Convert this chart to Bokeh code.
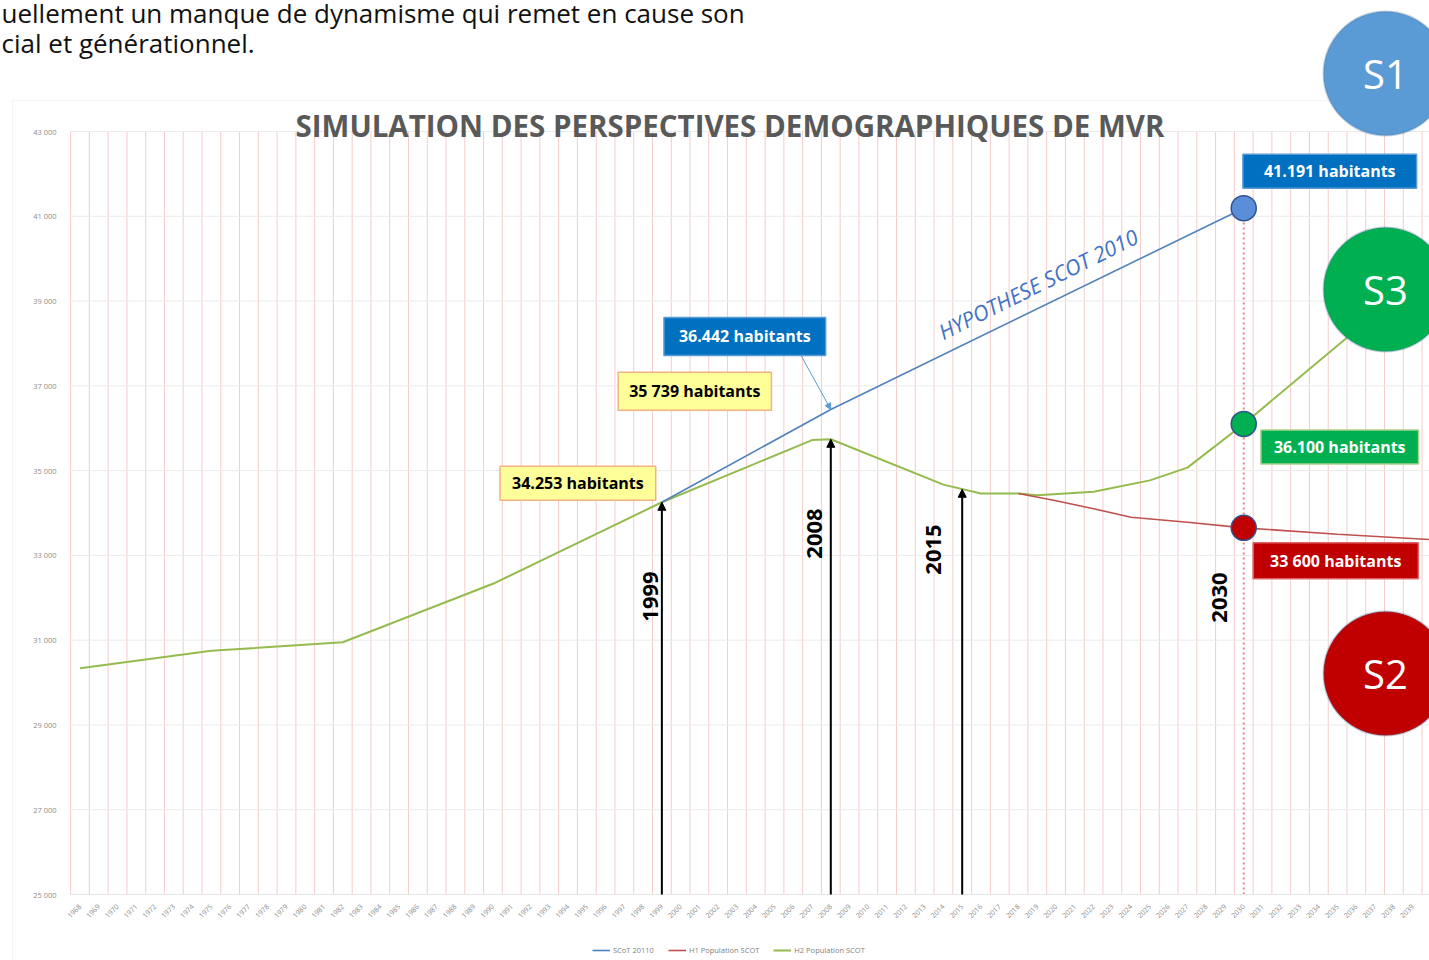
import math
from bokeh.plotting import figure
from bokeh.models import (Range1d, FixedTicker, Label, Arrow, NormalHead,
                          BoxAnnotation, Legend, LegendItem)
from bokeh.embed import file_html
from bokeh.resources import INLINE

# ---------------- data ----------------
years = list(range(1968, 2041))
y_ticks = [25000, 27000, 29000, 31000, 33000, 35000, 37000, 39000, 41000, 43000]
y_tick_labels = ["25 000", "27 000", "29 000", "31 000", "33 000", "35 000",
                 "37 000", "39 000", "41 000", "43 000"]

scot_years = [1999, 2008, 2030]
scot_vals = [34253, 36442, 41191]

h1_years = [2018, 2020, 2022, 2024, 2027, 2030, 2035, 2040]
h1_vals = [34460, 34290, 34100, 33900, 33780, 33650, 33500, 33370]

h2_years = [1968, 1975, 1982, 1990, 1999, 2007, 2008, 2014, 2016, 2018, 2019,
            2022, 2025, 2027, 2030, 2035, 2040]
h2_vals = [30340, 30750, 30950, 32330, 34253, 35720, 35739, 34670, 34460, 34460,
           34420, 34500, 34770, 35070, 36100, 37950, 39800]

milestone_years = [1999, 2008, 2015]
milestone_vals = [34253, 35739, 34560]

dot_year = 2030
dot_vals = [41191, 36100, 33650]

series_names = ["SCoT 20110", "H1 Population SCOT", "H2 Population SCOT"]

title_text = "SIMULATION DES PERSPECTIVES DEMOGRAPHIQUES DE MVR"
doc_line1 = "uellement un manque de dynamisme qui remet en cause son"
doc_line2 = "cial et générationnel."

# ---------------- layout ----------------
W, H = 1429, 960
YEAR_PX = 18.77
XS = years[0] - 79.5 / YEAR_PX          # data x at canvas left edge
XE = XS + W / YEAR_PX
Y0, Y1 = y_ticks[0], y_ticks[-1]
VAL_PX = (894 - 131) / (Y1 - Y0)
YE = Y1 + 131 / VAL_PX                   # data y at canvas top edge
YS = YE - H / VAL_PX
GX0 = years[0] - 0.5                     # left edge of plot area

def px_x(px):   # canvas pixel -> data x
    return XS + px / YEAR_PX

def px_y(py):   # canvas pixel -> data y
    return YE - py / VAL_PX

FONT = "Open Sans"
BLUE = "#4F81BD"
RED = "#C0504D"
GREEN = "#94BB4E"

p = figure(width=W, height=H, output_backend="svg", toolbar_location=None,
           x_range=Range1d(XS, XE), y_range=Range1d(YS, YE),
           min_border=0, min_border_left=0, min_border_right=0,
           min_border_top=0, min_border_bottom=0, title=None)
p.outline_line_color = None
p.background_fill_color = "white"
p.border_fill_color = "white"
p.xgrid.visible = False
p.ygrid.visible = False

# axes drawn inside the frame at the plot-area edges
xa = p.xaxis[0]
xa.fixed_location = Y0
xa.bounds = (GX0, XE)
xa.ticker = FixedTicker(ticks=years)
xa.major_label_orientation = math.pi / 4
xa.major_label_text_font = FONT
xa.major_label_text_font_size = "7px"
xa.major_label_text_color = "#8c8c8c"
xa.major_tick_line_color = None
xa.minor_tick_line_color = None
xa.axis_line_color = "#E6E6E6"
xa.major_label_standoff = 5

ya = p.yaxis[0]
ya.fixed_location = GX0
ya.bounds = (Y0, Y1)
ya.ticker = FixedTicker(ticks=y_ticks)
ya.major_label_overrides = {t: l for t, l in zip(y_ticks, y_tick_labels)}
ya.major_label_text_font = FONT
ya.major_label_text_font_size = "7.5px"
ya.major_label_text_color = "#8c8c8c"
ya.major_tick_line_color = None
ya.minor_tick_line_color = None
ya.axis_line_color = None
ya.major_label_standoff = 8

# grid lines of the plot area
vx = [y - 0.5 for y in years] + [years[-1] + 0.5]
p.segment(x0=vx, y0=[Y0] * len(vx), x1=vx, y1=[Y1] * len(vx),
          line_color="#F4CCCC", line_width=1)
p.segment(x0=[GX0] * len(y_ticks), y0=y_ticks, x1=[XE] * len(y_ticks), y1=y_ticks,
          line_color="#EBEBEB", line_width=1)

# chart border
p.add_layout(BoxAnnotation(left=px_x(12), right=px_x(1600), top=px_y(100),
                           bottom=px_y(1100), fill_alpha=0,
                           line_color="#D9D9D9", line_width=1))

# lines
r_h2 = p.line(h2_years, h2_vals, line_color=GREEN, line_width=2)
r_h1 = p.line(h1_years, h1_vals, line_color=RED, line_width=1.6)
r_scot = p.line(scot_years, scot_vals, line_color=BLUE, line_width=1.6)

# dotted 2030 marker
p.segment(x0=[dot_year], y0=[Y0], x1=[dot_year], y1=[dot_vals[0]],
          line_color="#E8868A", line_width=2, line_dash="2 3")

p.scatter([dot_year] * 3, dot_vals, size=25,
          fill_color=["#5A8ED8", "#00B050", "#C00000"],
          line_color="#2F528F", line_width=1.5)

# milestone arrows
for yr, v in zip(milestone_years, milestone_vals):
    p.add_layout(Arrow(end=NormalHead(size=8, fill_color="black", line_color="black"),
                       x_start=yr, y_start=Y0, x_end=yr, y_end=v,
                       line_color="black", line_width=2))

# rotated year labels
year_label_pos = [(1999, -11, 596), (2008, -16, 533), (2015, -29, 549), (2030, -24, 597)]
for yr, off, py in year_label_pos:
    p.add_layout(Label(x=yr, y=px_y(py), x_offset=off, text=str(yr), angle=90,
                       angle_units="deg", text_align="center", text_baseline="middle",
                       text_font=FONT, text_font_style="bold",
                       text_font_size="22px", text_color="black"))

# callout arrow to 36.442
p.add_layout(Arrow(end=NormalHead(size=6, fill_color="#5B9BD5", line_color="#5B9BD5"),
                   x_start=px_x(800), y_start=px_y(354), x_end=2008, y_end=scot_vals[1],
                   line_color="#5B9BD5", line_width=1))

# value boxes: text, x, y, x_off, y_off, fill, text colour, border, pad
boxes = [
    ("41.191 habitants", 2030, 41191, 86, 37, "#0070C0", "white", "#5B9BD5", (21, 6)),
    ("36.442 habitants", 2008, 36442, -86, 73, "#0070C0", "white", "#5B9BD5", (15, 8)),
    ("35 739 habitants", 2008, 35739, -136, 48, "#FFFF99", "black", "#F4B183", (11, 8)),
    ("34.253 habitants", 1999, 34253, -84, 19, "#FFFF99", "black", "#F4B183", (12, 6)),
    ("36.100 habitants", 2030, 36100, 96, -23, "#00B050", "white", "#A9D18E", (13, 6)),
    ("33 600 habitants", 2030, 33650, 92, -33, "#C00000", "white", "#E06666", (17, 7)),
]
for txt, x, y, xo, yo, fill, tc, bc, pad in boxes:
    p.add_layout(Label(x=x, y=y, x_offset=xo, y_offset=yo, text=txt,
                       text_align="center", text_baseline="middle",
                       text_font=FONT, text_font_style="bold",
                       text_font_size="16px", text_color=tc,
                       background_fill_color=fill, border_line_color=bc,
                       border_line_width=1.5, padding=pad))

# hypothesis label
p.add_layout(Label(x=px_x(1040), y=px_y(282), text="HYPOTHESE SCOT  2010",
                   angle=26.5, angle_units="deg", text_align="center",
                   text_baseline="middle", text_font=FONT,
                   text_font_style="italic", text_font_size="21.5px",
                   text_color="#4472C4"))

# title
p.add_layout(Label(x=px_x(729.5), y=px_y(125), text=title_text,
                   text_align="center", text_baseline="middle",
                   text_font=FONT, text_font_style="bold",
                   text_font_size="29.5px", text_color="#595959"))

# document text above chart
for txt, py in [(doc_line1, 12), (doc_line2, 42)]:
    p.add_layout(Label(x=px_x(1), y=px_y(py), text=txt, text_align="left",
                       text_baseline="alphabetic", text_font=FONT,
                       text_font_size="26px", text_color="#111111"))

# scenario circles
R = 62
circles = [("S1", 1385, 73, "#5B9BD5"), ("S3", 1385, 289, "#00B050"), ("S2", 1385, 673, "#C00000")]
for name, cx, cy, col in circles:
    p.add_layout(BoxAnnotation(left=px_x(cx - R), right=px_x(cx + R),
                               top=px_y(cy - R), bottom=px_y(cy + R),
                               fill_color=col, fill_alpha=1, line_color="#41719C",
                               line_width=2, border_radius=R))
    p.add_layout(Label(x=px_x(cx), y=px_y(cy), text=name, text_align="center",
                       text_baseline="middle", text_font=FONT,
                       text_font_size="40px", text_color="white"))

# legend
legend = Legend(items=[LegendItem(label=series_names[0], renderers=[r_scot]),
                       LegendItem(label=series_names[1], renderers=[r_h1]),
                       LegendItem(label=series_names[2], renderers=[r_h2])],
                orientation="horizontal", location=(592, 5),
                label_text_font=FONT, label_text_font_size="7.5px",
                label_text_color="#7f7f7f", glyph_width=18, glyph_height=8,
                label_height=9, label_standoff=3, spacing=14, padding=0, margin=0,
                background_fill_alpha=0, border_line_alpha=0)
p.add_layout(legend)

open("out.html", "w").write(file_html(p, INLINE))
